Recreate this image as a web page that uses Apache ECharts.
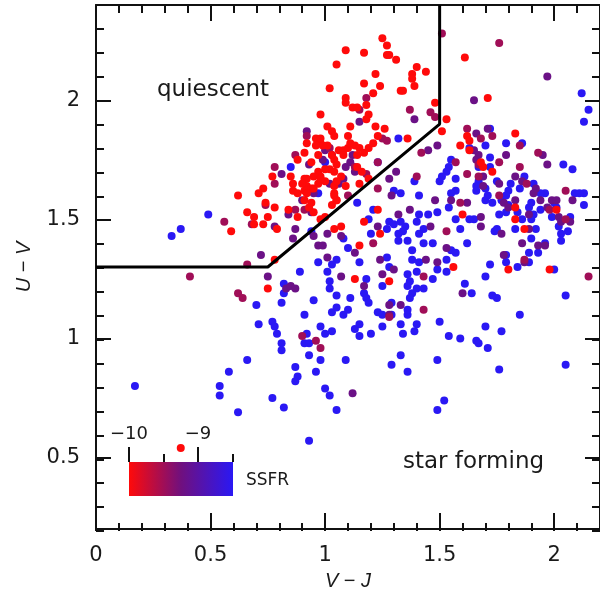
<!DOCTYPE html>
<html>
<head>
<meta charset="utf-8">
<script src="https://cdn.jsdelivr.net/npm/echarts@6/dist/echarts.min.js"></script>
<style>
  html, body { margin: 0; padding: 0; background: #fff; }
  #chart { width: 600px; height: 596px; }
</style>
</head>
<body>
<div id="chart"></div>
<script>
// galaxies, [V-J, U-V], grouped by their SSFR colour
const redPts = [
  [0.77,1.68],[0.85,1.68],[0.86,1.65],[0.86,1.62],[0.73,1.63],[0.71,1.61],[0.62,1.60],[0.74,1.57],[0.78,1.55],[0.84,1.54],
  [0.66,1.53],[0.75,1.51],[0.69,1.51],[0.69,1.48],[0.73,1.48],[0.79,1.46],[0.59,1.45],[0.78,1.33],[0.75,1.21],[0.88,1.51],
  [0.88,1.61],[0.91,1.62],[0.92,1.64],[0.94,1.63],[0.97,1.65],[1.00,1.66],[1.04,1.64],[1.04,1.60],[1.05,1.58],[1.09,1.64],
  [0.93,1.55],[0.95,1.53],[0.98,1.50],[1.00,1.51],[1.04,1.46],[1.07,1.47],
  [1.09,2.21],[1.05,2.15],[1.02,2.05],[1.09,2.01],[1.09,1.99],[0.98,1.94],[1.01,1.89],[1.03,1.87],[0.96,1.84],[0.98,1.82],
  [0.99,1.81],[1.06,1.79],[1.08,1.79],[0.91,1.78],[0.88,1.75],[1.04,1.75],[1.05,1.73],[1.02,1.71],[1.04,1.70],[1.07,1.68],
  [0.98,1.68],[0.91,1.67],
  [0.92,1.82],[0.96,1.81],[0.97,1.77],[0.94,1.74],[0.98,1.84],[1.01,1.81],[1.04,1.85],[1.03,1.77],[1.08,1.77],[1.10,1.80],
  [1.11,1.82],[1.00,1.71],[0.97,1.70],[0.95,1.68],[0.92,1.67],[0.90,1.65],[0.98,1.67],[1.05,1.66],[0.95,1.63],[0.92,1.61],
  [0.91,1.58],[0.94,1.57],[1.04,1.61],[1.05,1.58],[1.03,1.56],[1.19,1.67],[1.14,1.72],
  [1.25,2.26],[1.27,2.23],[1.17,2.20],[1.27,2.19],[1.28,2.19],[1.31,2.17],[1.61,2.18],[1.40,2.14],[1.22,2.11],[1.38,2.11],
  [1.44,2.12],[1.38,2.09],[1.17,2.07],[1.24,2.06],[1.39,2.06],[1.33,2.04],[1.34,2.04],[1.21,2.03],[1.12,1.97],[1.14,1.97],
  [1.18,1.98],[1.19,1.94],[1.18,1.92],[1.11,1.89],[1.22,1.89],[1.26,1.88],[1.48,1.99],[1.53,1.92],[1.51,1.87],[1.71,2.01],
  [1.10,1.85],[1.13,1.81],[1.15,1.80],[1.17,1.78],[1.14,1.77],[1.19,1.80],[1.21,1.82],[1.23,1.85],[1.36,1.84],[1.16,1.70],
  [1.62,1.85],[1.63,1.83],[1.59,1.81],[1.69,1.72],[1.73,1.70],[1.83,1.86],[1.63,1.79],[1.68,1.74],[1.60,1.52],[1.83,1.55],
  [1.83,1.50],[1.87,1.46],[1.80,1.29],[1.98,1.29],[2.01,1.54],
  [1.15,1.65],[1.23,1.54],[1.17,1.49],[1.24,1.44],[1.15,1.39],[1.56,1.30],[1.13,1.25],[1.28,1.24],[0.37,0.54]
];
const maroonPts = [
  [0.87,1.77],[0.78,1.65],[0.74,1.56],[0.56,1.49],[0.68,1.48],[0.66,1.31],[0.41,1.26],[0.62,1.19],[0.64,1.17],[0.87,1.54],
  [0.91,1.54],[1.02,1.80],[0.92,1.85],[0.78,1.72],[1.51,2.28],[1.18,2.01],[1.15,1.96],[1.37,1.96],[1.46,1.95],[1.48,1.93],
  [1.25,1.84],[1.27,1.83],[1.13,1.72],[1.42,1.78],[1.62,1.88],[1.73,1.85],[1.67,1.73],[1.57,1.74],[1.40,1.68],[1.67,1.68],
  [1.76,2.24],[1.85,1.81],[1.76,1.74],[1.93,1.78],[1.85,1.72],[1.68,1.84],[1.76,1.60],[2.05,1.50],[2.15,1.26],[1.88,1.65],
  [2.05,1.62],[1.98,1.54],[1.87,1.33],[1.23,1.63],[1.10,1.60],[1.59,1.57],[1.21,1.40],[1.53,1.45],[1.43,1.26],[0.90,1.01],
  [0.96,0.99],[0.98,0.96],[1.28,1.09],[1.43,1.12],[1.23,1.74],[1.62,1.69],[1.18,1.69]
];
const purplePts = [
  [0.81,1.69],[0.84,1.52],[0.78,1.47],[0.86,1.42],[0.72,1.35],[0.75,1.26],[0.87,1.46],[0.83,1.21],[0.85,1.22],[0.87,1.21],
  [1.07,1.26],[1.01,1.34],[0.97,1.39],[0.99,1.39],[0.95,1.43],[1.01,1.44],[1.07,1.43],[0.94,1.53],[0.95,1.61],[0.90,1.58],
  [1.06,1.65],[0.92,1.87],[1.00,1.79],[1.03,1.77],[0.93,1.73],[0.99,1.75],[1.09,1.72],[1.02,1.65],[1.08,1.67],[1.12,1.77],
  [1.11,1.74],[1.15,1.91],[1.39,1.92],[1.65,2.00],[1.13,1.70],[1.45,1.79],[1.49,1.81],[1.65,1.79],[1.66,1.86],[1.66,1.75],
  [1.28,1.67],[1.97,2.10],[1.79,1.77],[1.95,1.77],[1.97,1.73],[1.67,1.77],[1.71,1.88],[1.83,1.68],[1.86,1.66],[1.69,1.68],
  [1.62,1.57],[1.48,1.58],[1.68,1.51],[1.80,1.55],[1.89,1.52],[1.94,1.58],[1.99,1.58],[1.97,1.55],[2.02,1.51],[2.07,1.49],
  [2.08,1.58],[2.01,1.58],[1.92,1.63],[1.93,1.39],[1.86,1.40],[1.87,1.32],[1.76,1.65],[1.83,1.58],[1.91,1.61],[1.78,1.57],
  [2.03,1.49],[1.77,1.44],[1.89,1.46],[1.96,1.39],[1.78,1.35],[1.29,1.60],[1.55,1.58],[1.69,1.64],[1.37,1.54],
  [1.32,1.52],[1.23,1.47],[1.46,1.47],[1.68,1.47],[1.13,1.36],[1.24,1.33],[1.30,1.29],[1.44,1.33],[1.49,1.32],[1.53,1.38],
  [1.25,1.27],[1.17,1.22],[1.60,1.19],[1.28,1.14],[1.28,1.10],[1.33,1.14],[1.12,0.77],[1.31,1.70]
];
const bluePts = [
  [0.85,1.72],[0.49,1.52],[0.37,1.46],[0.33,1.43],[0.82,1.23],[0.82,1.19],[0.70,1.14],[0.81,1.15],[0.89,1.28],[0.91,1.10],
  [0.95,1.16],[0.71,1.06],[0.77,1.07],[0.78,1.05],[0.98,1.05],[1.03,1.11],[1.05,1.13],[1.08,1.10],[1.05,1.18],[1.02,1.21],
  [1.02,1.24],[1.01,1.28],[0.97,1.32],[1.05,1.33],[1.03,1.31],[0.94,1.45],[1.08,1.42],[0.97,1.61],[1.00,1.74],
  [0.79,1.02],[0.81,0.98],[0.81,0.95],[0.66,0.91],[0.58,0.86],[0.54,0.80],[0.54,0.76],[0.62,0.69],[0.77,0.75],[0.82,0.71],
  [0.87,0.88],[0.88,0.84],[0.87,0.82],[0.91,0.98],[0.93,0.98],[0.92,1.02],[0.93,0.93],[0.98,0.91],[0.96,0.86],[1.00,0.79],
  [1.02,0.76],[1.05,0.70],[1.09,0.91],[1.00,1.02],[1.03,1.03],[1.15,1.01],[1.20,1.02],[1.34,1.02],[1.39,1.03],[1.33,0.93],
  [1.29,0.89],[1.36,0.86],[1.49,0.91],[1.54,1.01],[1.59,1.00],[1.66,0.99],[1.67,0.98],[1.71,0.96],[1.77,1.03],[1.76,0.87],
  [1.52,0.74],[1.49,0.70],[2.05,0.89],[0.93,0.57],[0.17,0.80],
  [1.13,1.04],[1.15,1.06],[1.23,1.11],[1.25,1.10],[1.29,1.10],[1.25,1.05],[1.33,1.06],[1.40,1.06],[1.36,1.10],[1.50,1.07],
  [1.70,1.05],[1.85,1.10],[1.75,1.17],[2.05,1.18],
  [1.30,1.62],[1.33,1.61],[1.41,1.60],[1.50,1.66],[1.57,1.62],[1.66,1.62],[1.70,1.58],[1.73,1.57],[1.14,1.57],[1.21,1.54],
  [1.19,1.50],[1.54,1.55],[1.49,1.53],[1.45,1.52],[1.41,1.52],[1.28,1.49],[1.30,1.48],[1.27,1.46],[1.20,1.44],[1.33,1.49],
  [1.35,1.47],[1.34,1.45],[1.40,1.49],[1.43,1.46],[1.59,1.46],[1.65,1.50],[1.74,1.45],[1.32,1.44],[1.36,1.41],[1.41,1.44],
  [1.43,1.40],[1.32,1.41],[1.47,1.40],[1.55,1.37],[1.57,1.36],[1.62,1.40],[1.10,1.38],[1.15,1.32],[1.27,1.34],[1.28,1.30],
  [1.38,1.33],[1.41,1.32],[1.38,1.37],[1.49,1.29],[1.53,1.33],[1.53,1.28],[1.72,1.31],[1.70,1.26],[1.18,1.25],[1.25,1.22],
  [1.36,1.27],[1.40,1.28],[1.47,1.25],[1.37,1.24],[1.36,1.22],[1.40,1.21],[1.43,1.21],[1.38,1.19],[1.37,1.17],[1.61,1.23],
  [1.64,1.19],[1.73,1.18],[1.17,1.19],[1.18,1.17],[1.19,1.15],[1.11,1.17],[1.29,1.15],[1.36,1.12],[1.10,1.12],[1.39,1.66],
  [2.12,2.03],[2.15,1.96],[2.13,1.91],[1.79,1.82],[1.86,1.82],[2.04,1.73],[2.08,1.71],[1.72,1.76],[1.72,1.88],[1.70,1.81],
  [1.63,1.80],[1.55,1.75],[1.54,1.72],[1.53,1.70],[1.51,1.68],[1.32,1.84],[1.23,1.74],[1.67,1.72],[1.72,1.72],[1.87,1.68],
  [1.91,1.65],[1.81,1.65],[1.80,1.62],[1.75,1.66],[1.67,1.66],[1.66,1.64],[1.70,1.63],[1.71,1.60],[1.55,1.61],[1.57,1.67],
  [1.57,1.50],[1.63,1.50],[1.76,1.52],[1.77,1.58],[1.84,1.53],[1.89,1.55],[1.86,1.50],[1.90,1.50],[1.96,1.61],[1.94,1.54],
  [2.01,1.55],[1.99,1.51],[2.02,1.47],[2.03,1.44],[2.07,1.51],[2.09,1.61],[2.13,1.61],[2.11,1.61],[2.13,1.56],[1.83,1.46],
  [1.92,1.46],[1.90,1.42],[1.96,1.40],[1.89,1.36],[1.79,1.35],[1.84,1.30],[2.00,1.29],[1.85,1.63],[1.79,1.60],[1.94,1.61],
  [1.80,1.56],[1.90,1.57],[2.00,1.57],[1.79,1.53],[1.91,1.52],[1.75,1.46],[2.06,1.45],[2.03,1.41],[1.93,1.36],[1.79,1.32],
  [1.89,1.32]
];

// SSFR value used for each colour group (blue, purple, maroon, red)
const ssfrLevels = [-8.4, -9.2, -9.5, -10.2];
const groups = [bluePts, purplePts, maroonPts, redPts];

// tick positions
const xMajor = [0, 0.5, 1, 1.5, 2];
const yMajor = [0.5, 1, 1.5, 2];
const cbarMajor = [-10, -9];
const cbarMinor = [-9.5, -8.5];

// colour scale, low SSFR -> high SSFR
const ssfrColors = ['#ff0a0a', '#70107e', '#2a18f4'];

// quiescent / star forming dividing line
const boundary = [[0, 1.3], [0.75, 1.3], [1.5, 1.9], [1.5, 2.4]];

var points = [];
groups.forEach(function (g, i) {
  g.forEach(function (p) {
    points.push([p[0], p[1], ssfrLevels[i]]);
  });
});

var font = 'DejaVu Sans, sans-serif';
var nameFont = 'Liberation Sans, Arial, sans-serif';
var ink = '#1a1a1a';

// colour bar box
var cbar = { left: 129, top: 462, len: 104, thick: 34, min: -10, max: -8.5 };

function lineSt() {
  return { color: '#111', width: 2 };
}

var chart = echarts.init(document.getElementById('chart'), null, { renderer: 'canvas' });

// minus sign like the original
function minus(v) {
  return String(v).replace('-', '\u2212');
}

function plainAxis(grid, pos, min, max) {
  return {
    gridIndex: grid, type: 'value', position: pos, min: min, max: max,
    axisLine: { show: false, onZero: false },
    axisLabel: { show: false },
    splitLine: { show: false }
  };
}

// colour bar: gradient box, ticks (long at whole numbers, short at halves) and labels
function cbarX(v) {
  return cbar.left + (v - cbar.min) / (cbar.max - cbar.min) * cbar.len;
}
var cbarEls = [{
  id: 'cbar', type: 'rect', z: 20, silent: true,
  shape: { x: cbar.left, y: cbar.top, width: cbar.len, height: cbar.thick },
  style: {
    fill: new echarts.graphic.LinearGradient(0, 0, 1, 0, ssfrColors.map(function (c, i) {
      return { offset: i / (ssfrColors.length - 1), color: c };
    }))
  }
}];
cbarMajor.forEach(function (v, i) {
  var x = Math.round(cbarX(v));
  cbarEls.push({
    id: 'cbmaj' + i, type: 'rect', z: 20, silent: true,
    shape: { x: x - 1, y: cbar.top - 15, width: 2, height: 15 },
    style: { fill: '#111' }
  });
  cbarEls.push({
    id: 'cblab' + i, type: 'text', z: 20, silent: true,
    x: x, y: cbar.top - 19,
    style: { text: minus(v), font: '18px ' + font, fill: ink, align: 'center', verticalAlign: 'bottom' }
  });
});
cbarMinor.forEach(function (v, i) {
  var x = Math.round(cbarX(v));
  cbarEls.push({
    id: 'cbmin' + i, type: 'rect', z: 20, silent: true,
    shape: { x: x - 1, y: cbar.top - 8, width: 2, height: 8 },
    style: { fill: '#111' }
  });
});

var option = {
  animation: false,
  backgroundColor: '#fff',
  grid: [
    { left: 96, top: 5, right: -5, bottom: 65 },   // data + major ticks
    { left: 96, top: 5, right: -5, bottom: 65 }    // minor ticks
  ],
  xAxis: [
    {
      gridIndex: 0, type: 'value', position: 'bottom', min: 0, max: 2.2,
      axisLine: { show: true, onZero: false, lineStyle: lineSt() },
      axisTick: { show: true, inside: true, length: 16, customValues: xMajor, lineStyle: lineSt() },
      axisLabel: { customValues: xMajor, fontSize: 21, color: ink, fontFamily: font, margin: 16 },
      splitLine: { show: false },
      name: '{i|V} \u2212 {i|J}', nameLocation: 'middle', nameGap: 42,
      nameTextStyle: {
        fontSize: 20, color: ink, fontFamily: nameFont,
        rich: { i: { fontStyle: 'italic', fontSize: 20, color: ink, fontFamily: nameFont } }
      }
    },
    Object.assign(plainAxis(0, 'top', 0, 2.2), {
      axisLine: { show: true, onZero: false, lineStyle: lineSt() },
      axisTick: { show: true, inside: true, length: 16, customValues: xMajor, lineStyle: lineSt() }
    }),
    Object.assign(plainAxis(1, 'bottom', 0, 2.2), {
      interval: 0.1,
      axisTick: { show: true, inside: true, length: 8, lineStyle: lineSt() }
    }),
    Object.assign(plainAxis(1, 'top', 0, 2.2), {
      interval: 0.1,
      axisTick: { show: true, inside: true, length: 8, lineStyle: lineSt() }
    })
  ],
  yAxis: [
    {
      gridIndex: 0, type: 'value', position: 'left', min: 0.2, max: 2.4,
      axisLine: { show: true, onZero: false, lineStyle: lineSt() },
      axisTick: { show: true, inside: true, length: 15, customValues: yMajor, lineStyle: lineSt() },
      axisLabel: { customValues: yMajor, fontSize: 21, color: ink, fontFamily: font, margin: 16 },
      splitLine: { show: false },
      name: '{i|U} \u2212 {i|V}', nameLocation: 'middle', nameGap: 62,
      nameTextStyle: {
        fontSize: 20, color: ink, fontFamily: nameFont,
        rich: { i: { fontStyle: 'italic', fontSize: 20, color: ink, fontFamily: nameFont } }
      }
    },
    Object.assign(plainAxis(0, 'right', 0.2, 2.4), {
      axisLine: { show: true, onZero: false, lineStyle: lineSt() },
      axisTick: { show: true, inside: true, length: 15, customValues: yMajor, lineStyle: lineSt() }
    }),
    Object.assign(plainAxis(1, 'left', 0.2, 2.4), {
      interval: 0.1,
      axisTick: { show: true, inside: true, length: 8, lineStyle: lineSt() }
    }),
    Object.assign(plainAxis(1, 'right', 0.2, 2.4), {
      interval: 0.1,
      axisTick: { show: true, inside: true, length: 8, lineStyle: lineSt() }
    })
  ],
  visualMap: {
    type: 'continuous',
    show: false,
    seriesIndex: 0,
    dimension: 2,
    min: cbar.min,
    max: cbar.max,
    inRange: { color: ssfrColors }
  },
  series: [
    {
      type: 'scatter',
      xAxisIndex: 0, yAxisIndex: 0,
      data: points,
      symbolSize: 8,
      itemStyle: { opacity: 1 },
      z: 2
    },
    {
      type: 'line',
      xAxisIndex: 0, yAxisIndex: 0,
      data: boundary,
      symbol: 'none',
      lineStyle: { color: '#000', width: 3 },
      z: 3
    }
  ],
  graphic: [
    { id: 'q', type: 'text', left: 157, top: 79, z: 10,
      style: { text: 'quiescent', font: '23px ' + font, fill: ink } },
    { id: 'sf', type: 'text', left: 403, top: 451, z: 10,
      style: { text: 'star forming', font: '23px ' + font, fill: ink } },
    { id: 'ssfr', type: 'text', left: 246, top: 472, z: 10,
      style: { text: 'SSFR', font: '17px ' + font, fill: ink } }
  ].concat(cbarEls)
};

chart.setOption(option);
</script>
</body>
</html>
